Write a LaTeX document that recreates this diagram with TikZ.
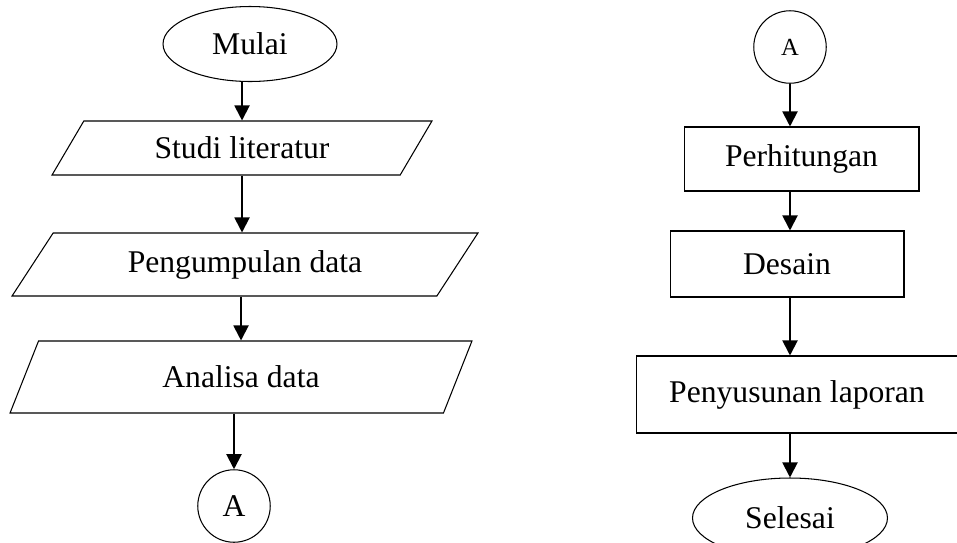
\documentclass[tikz,border=0pt]{standalone}
\usepackage{fontspec}
\setmainfont{Liberation Serif}
\usetikzlibrary{shapes.geometric,arrows.meta}

\tikzset{
  txt/.style={font=\fontsize{18}{22}\selectfont},
  term/.style={draw, ellipse, inner sep=0pt, line width=0.6pt, txt},
  io/.style={draw, trapezium, trapezium stretches body, inner sep=0pt, line width=0.6pt, txt},
  proc/.style={draw, rectangle, inner sep=0pt, line width=0.6pt, txt},
  conn/.style={draw, circle, inner sep=0pt, minimum size=1.45cm, line width=0.6pt},
  arr/.style={line width=1.1pt, -{Triangle[width=0.3cm,length=0.3cm]}}
}

\begin{document}
\begin{tikzpicture}[x=0.02cm, y=-0.02cm]
\useasboundingbox (0,0) rectangle (957,542);
\clip (0,0) rectangle (957,542);

% kolom kiri
\node[term, minimum width=3.48cm, minimum height=1.5cm] (mulai) at (250,44) {Mulai};
\node[io, trapezium left angle=35, trapezium right angle=145,
      minimum width=7.6cm, minimum height=1.08cm] (studi) at (242,148) {Studi literatur};
\node[io, trapezium left angle=35, trapezium right angle=145,
      minimum width=9.32cm, minimum height=1.26cm] (kumpul) at (245,264.5) {Pengumpulan data};
\node[io, trapezium left angle=38, trapezium right angle=142,
      minimum width=9.24cm, minimum height=1.44cm] (analisa) at (241,377) {Analisa data};
\node[conn, txt] (konA) at (234,506) {A};

% kolom kanan
\node[conn, font=\fontsize{14}{17}\selectfont] (konB) at (790,47) {A};
\node[proc, minimum width=4.7cm, minimum height=1.28cm] (hitung) at (801.5,159) {Perhitungan};
\node[proc, minimum width=4.68cm, minimum height=1.32cm] (desain) at (787,264) {Desain};
\node[proc, minimum width=6.44cm, minimum height=1.54cm] (lapor) at (797,394.5) {Penyusunan laporan};
\node[term, minimum width=3.9cm, minimum height=1.6cm] (selesai) at (790,518) {Selesai};

\draw[arr] (studi.north |- mulai.south) -- (studi.north);
\draw[arr] (studi.south) -- (studi.south |- kumpul.north);
\draw[arr] (analisa.north |- kumpul.south) -- (analisa.north);
\draw[arr] (konA.north |- analisa.south) -- (konA.north);

\draw[arr] (konB.south) -- (konB.south |- hitung.north);
\draw[arr] (konB.south |- hitung.south) -- (konB.south |- desain.north);
\draw[arr] (konB.south |- desain.south) -- (konB.south |- lapor.north);
\draw[arr] (selesai.north |- lapor.south) -- (selesai.north);
\end{tikzpicture}
\end{document}
